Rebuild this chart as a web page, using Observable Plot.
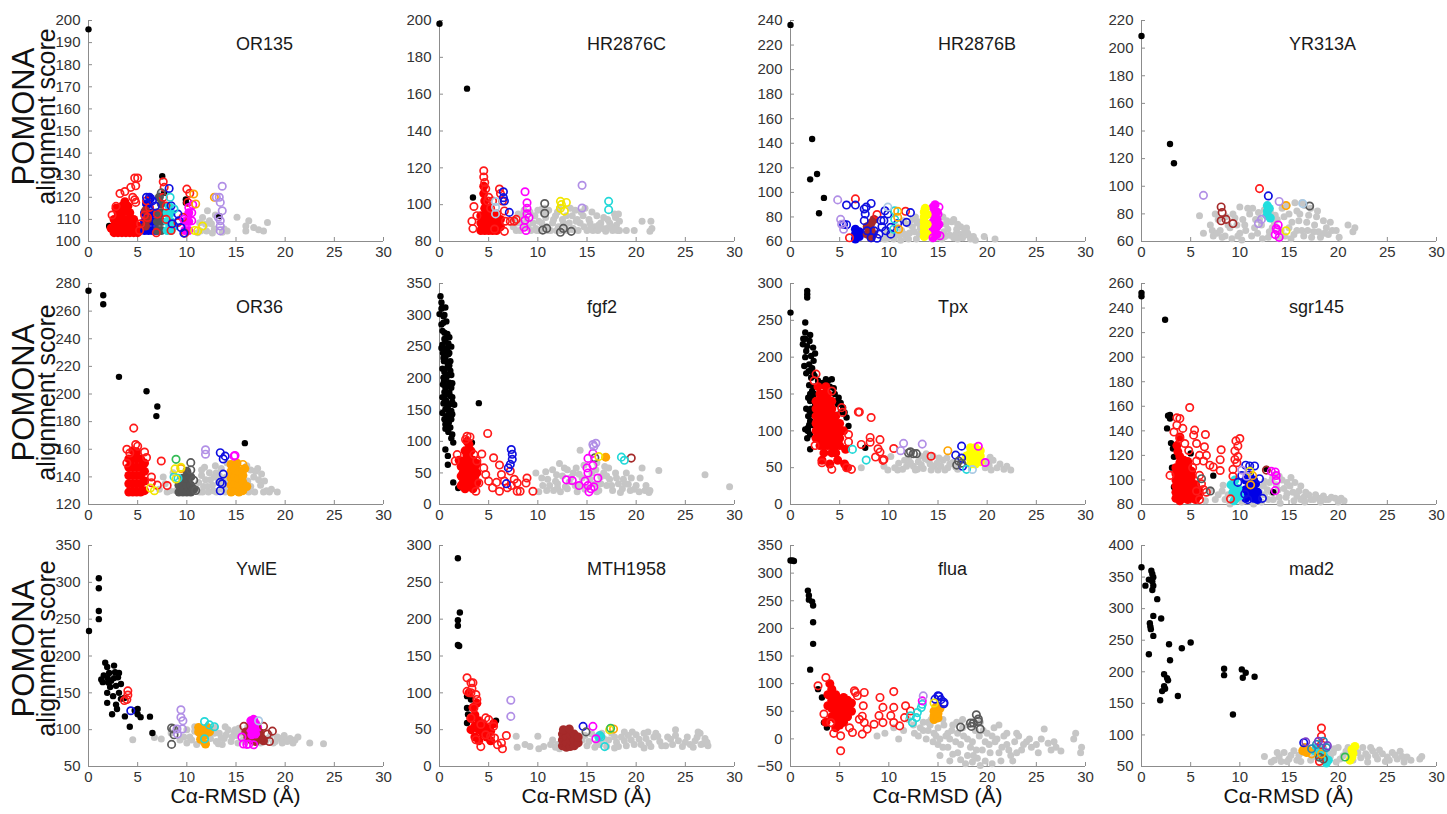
<!DOCTYPE html>
<html><head><meta charset="utf-8">
<script src="https://cdn.jsdelivr.net/npm/d3@7"></script>
<script src="https://cdn.jsdelivr.net/npm/@observablehq/plot@0.6"></script>
<style>
body{margin:0;background:#fff;font-family:"Liberation Sans",Arial,sans-serif;}
#wrap{position:relative;width:1447px;height:814px;overflow:hidden;background:#fff;}
.panel{position:absolute;}
.ylab{position:absolute;width:260px;text-align:center;color:#111;transform:rotate(-90deg);transform-origin:50% 50%;white-space:nowrap;}
.xlab{position:absolute;width:300px;text-align:center;font-size:21px;line-height:22px;color:#111;white-space:nowrap;}
</style></head><body><div id="wrap"></div>
<script>
// ---------- panel metadata ----------
const panelNames = ["OR135","HR2876C","HR2876B","YR313A","OR36","fgf2","Tpx","sgr145","YwlE","MTH1958","flua","mad2"];
const yDomains = [[100,200],[80,200],[60,240],[60,220],[120,280],[0,350],[0,300],[80,260],[50,350],[0,300],[-50,350],[50,400]];
const yTickValues = [
  [100,110,120,130,140,150,160,170,180,190,200],
  [80,100,120,140,160,180,200],
  [60,80,100,120,140,160,180,200,220,240],
  [60,80,100,120,140,160,180,200,220],
  [120,140,160,180,200,220,240,260,280],
  [0,50,100,150,200,250,300,350],
  [0,50,100,150,200,250,300],
  [80,100,120,140,160,180,200,220,240,260],
  [50,100,150,200,250,300,350],
  [0,50,100,150,200,250,300],
  [-50,0,50,100,150,200,250,300,350],
  [50,100,150,200,250,300,350,400]
];
const xTickValues = [0,5,10,15,20,25,30];
const yLabelTop = "POMONA";
const yLabelBottom = "alignment score";
const xLabelText = "C\u03b1-RMSD (\u00c5)";

// ---------- data: flat [x,y, x,y, ...] ----------
// OR135
const or135Black = [0,196, 2.1,107, 7.5,129.5, 7.7,122, 9.9,119, 9.9,117.5, 13.3,111.5];
const or135Gray = [12.1,113.9, 11.6,110.9, 12.3,109.4, 12,104.8, 11.4,104.8, 12.8,105.6, 12.5,108, 14.1,104.8, 13.8,105.6, 15.1,111, 16,107, 16.3,109.4, 16,104.8, 16.8,106.3, 17.3,105.3, 17.8,104.8, 18.2,108.6, 11.9,107.8, 11.1,104, 12.9,112, 7.3,121.5, 11.3,108.5, 12.6,103.8, 13.6,104.2];
const or135RedFill = [2.6,104, 2.6,107, 2.6,110, 3.0,104, 3.0,107, 3.0,110, 3.0,113, 3.4,104, 3.4,107, 3.4,110, 3.4,113, 3.4,116, 3.7,118, 3.8,104, 3.8,107, 3.8,110, 3.8,114, 4.2,104, 4.2,107, 4.2,110, 4.2,113, 4.6,104, 4.6,107, 4.6,110, 5.0,104, 5.0,107, 2.3,106, 2.8,115, 4.0,116];
const or135Red = [2.8,115.9, 3.2,121.7, 3.7,122.6, 4.3,124.5, 4.7,128.7, 5.0,128.7, 4.8,125.2, 4.7,118.9, 4.8,117.7, 5.9,118.4, 6.2,115.4, 6.0,110.9, 7.0,112.4, 7.6,127, 7.7,124.5, 7.6,120, 7.9,116, 8.4,105, 9.1,108.6, 9.8,103.8, 10.0,123.7, 10.3,121.8, 10.1,117.7, 9.6,110.9, 7.9,110, 5.3,108, 6.9,104, 5.7,112, 5.2,105, 2.4,112, 4.5,120];
const or135BlueFill = [5.7,105, 5.7,109, 5.7,113, 6.1,105, 6.1,109, 6.1,113, 6.1,117, 6.5,105, 6.5,109, 6.5,113, 6.9,105, 6.9,109, 6.3,119.5, 5.9,117];
const or135Blue = [5.9,120, 6.2,120, 6.5,118.4, 8.2,124, 8.4,116.2, 8.5,108, 9.4,106.3, 9.7,103.8, 9.2,109.4, 9.1,112.4, 6.8,116];
const or135MaroonFill = [5.8,114, 6.0,110, 5.8,107];
const or135DgrayFill = [7.0,105, 7.0,109, 7.0,113, 7.4,105, 7.4,109, 7.4,113, 7.4,117, 7.2,120];
const or135Dgray = [7.4,122];
const or135CyanFill = [8.0,105, 8.0,109, 8.0,113, 8.4,105, 8.4,109, 8.4,113, 8.7,107, 8.2,116];
const or135Cyan = [8.3,120, 8.7,114.7];
const or135MagentaFill = [9.8,105, 9.8,109, 10.2,105, 10.2,109, 10.2,113];
const or135Magenta = [10.6,116.6, 10.5,113, 10.5,109.4, 9.7,110, 10.2,115.4];
const or135Yellow = [11.1,104.8, 11.6,107, 10.8,105];
const or135Orange = [10.7,121.5, 12.8,120, 10.9,117];
const or135Lavender = [13.6,125, 13.3,120, 13.0,120, 13.4,117.7, 13.6,113.9, 13.4,109.4, 13.4,104.8, 13.4,107, 13.2,111];

// HR2876C
const hr2876cBlack = [0,198.2, 2.8,163, 3.4,103.9];
const hr2876cGray = [7.5,88, 7.6,92, 8.2,86, 8.3,90, 8.5,94, 9.3,86, 9.5,90, 9.7,94, 10.0,97, 10.2,86, 10.4,90, 10.8,93, 11.1,97, 11.3,86, 11.5,90, 11.8,94, 12.1,88, 12.5,92, 13.0,86, 13.2,90, 13.5,94, 13.8,97, 14.1,86, 14.3,90, 14.6,94, 15.0,86, 15.3,90, 15.5,96, 15.8,88, 16.1,86, 16.4,90, 16.7,93, 17.0,87, 17.3,90, 17.6,86, 17.9,93, 18.0,89, 18.2,95, 18.3,86, 19.0,86, 19.8,86, 20.6,91, 21.5,91, 21.6,87, 21.4,85.5, 16.9,85.5, 14.8,98, 9.0,88, 12.8,89, 14.0,92, 10.9,88,
  7.8,86, 8.0,95, 8.7,88, 8.9,92, 9.2,96, 9.8,87, 10.1,91, 10.6,95, 10.7,98, 11.0,86, 11.6,92, 12.0,96, 12.3,86, 12.6,90, 12.9,94, 13.3,98, 13.6,87, 13.9,91, 14.4,96, 14.7,88, 15.2,92, 15.6,86, 16.0,94, 16.2,89, 16.6,87, 17.1,92, 17.5,88, 17.8,95, 18.3,91, 18.1,86, 9.9,86, 11.9,86, 13.5,86.5, 15.4,88, 8.6,97, 10.4,97.5, 12.2,98, 7.9,90];
const hr2876cRedFill = [4.2,86, 4.2,90, 4.2,94, 4.6,86, 4.6,90, 4.6,94, 4.6,98, 4.6,102, 5.0,86, 5.0,90, 5.0,94, 5.0,98, 5.4,86, 5.4,90, 5.4,94, 5.8,86, 5.8,90, 5.8,95, 6.2,88, 6.2,92, 4.5,106, 4.5,110];
const hr2876cRed = [4.5,118.4, 4.5,115, 4.6,112, 4.7,108.6, 4.9,102, 3.5,99, 3.3,91, 3.4,87, 3.8,94, 6.1,108.5, 6.2,106, 6.4,102, 6.6,96.6, 6.7,91, 7.2,91, 7.6,91, 7.8,92, 6.6,85.5, 5.6,86.8, 5.4,102, 5.2,98, 5.0,104];
const hr2876cBlue = [6.5,107, 6.6,102, 7.1,95.8, 6.5,103.8];
const hr2876cLightblue = [5.7,101.7, 5.7,98.6, 5.7,95];
const hr2876cMagenta = [8.7,107, 8.9,101, 8.9,98, 8.9,95, 8.7,91.5, 8.6,87.7, 8.8,86, 9.1,93];
const hr2876cDgray = [10.7,100.6, 10.7,95.3, 10.5,86.2, 10.9,87.1, 12.6,87.1, 12.3,85, 13.4,85.5];
const hr2876cYellow = [12.3,101.8, 12.9,101.2, 12.3,98, 12.7,96.5, 12.4,100];
const hr2876cLavender = [14.5,110.5, 14.5,98.2];
const hr2876cCyan = [17.2,101.8, 17.2,97.3];

// HR2876B
const hr2876bBlack = [0,236.4, 2.2,143.5, 2.0,110.6, 2.7,115, 3.4,95.5, 2.9,83];
const hr2876bGray = [9.5,62, 10,64, 10.5,62, 11,65, 11.3,69, 11.8,63, 12.1,67, 12.4,72, 12.4,78, 12.8,62, 13.1,66, 13.2,71, 15.4,62, 15.6,68, 15.8,74, 15.9,77, 16.2,65, 16.6,63, 16.9,70, 17.2,66, 17.5,63, 17.9,71, 18.0,67, 18.3,62, 19.7,64, 20.8,62, 12.0,74, 11.2,61, 9.8,67, 12.9,75, 17.0,62,
  10.3,67, 10.8,72, 11.6,66, 12.0,62, 12.6,68, 13.0,76, 15.5,80, 16.0,70, 16.4,76, 16.8,66, 17.3,72, 17.7,68, 18.1,65, 18.6,64, 14.4,62, 11.5,77, 12.7,80, 15.7,64, 16.6,78, 17.0,74, 9.7,62, 18.8,61];
const hr2876bLavender = [4.8,93.9, 5.1,78, 5.2,74, 5.4,70];
const hr2876bBlue = [5.7,89.7, 6.6,89.7, 5.4,74, 5.7,73.7, 7.5,86.5, 7.6,82.4, 8.2,91, 7.7,88, 7.5,77, 7.8,68.7, 8.2,63, 8.8,62.7, 8.5,68.7, 9.2,77, 9.6,85, 9.5,77, 9.7,68.7, 10.2,71.5, 10.2,66, 10.9,74.6, 11.8,75.6, 12.2,83.5, 9.9,82.4, 9.0,66, 9.3,72];
const hr2876bBlueFill = [6.6,62, 6.6,66, 6.6,70, 7.0,64, 7.0,68];
const hr2876bRed = [6.6,94.7, 6.0,63, 8.8,82, 11.7,84.6];
const hr2876bMaroonFill = [7.8,66, 7.8,72, 8.2,63, 8.2,69, 8.2,75, 8.5,78, 8.4,66];
const hr2876bCyan = [10.6,85, 10.6,78, 10.5,70];
const hr2876bOrange = [11.0,70, 10.9,79.8, 10.9,84.6];
const hr2876bLightblue = [9.9,88];
const hr2876bYellowFill = [13.6,64, 13.6,68, 13.6,72, 13.6,76, 13.6,80, 13.6,84, 13.9,66, 13.9,74, 13.9,82, 13.7,87];
const hr2876bMagentaFill = [14.5,64, 14.5,70, 14.5,76, 14.5,82, 14.5,88, 14.9,66, 14.9,72, 14.9,78, 14.9,84, 15.1,74, 14.7,90];
const hr2876bMagenta = [14.5,63, 15.2,64.7, 15.0,82.4, 15.1,88];

// YR313A
const yr313aBlack = [0,208.8, 2.9,130.6, 3.3,116.6];
const yr313aGray = [5.9,78.6, 7,72, 7.5,80, 8,68, 8.5,64, 9,70, 9.5,77, 10,66, 10.5,72, 11,80, 11.2,64, 11.5,70, 12,76, 12.5,83, 13,67, 13.5,74, 14,62, 14.5,78, 15,70, 15.5,65, 15.8,82, 16,75, 16.3,68, 16.6,86, 17,79, 17.3,63, 17.6,72, 18,67, 18.5,75, 19,65, 19.2,74, 19.8,68, 20.1,63, 21.0,72, 21.5,67, 21.7,70, 9.2,62, 12.3,62, 6.3,66, 10.8,84, 14.8,86, 16.3,88, 7.3,64, 10.2,61, 13.6,79,
  7.2,68, 7.8,76, 8.2,63, 8.8,72, 9.3,80, 9.8,64, 10.3,76, 10.6,68, 11.3,84, 11.8,66, 12.2,72, 12.6,79, 12.9,63, 13.3,70, 13.8,76, 14.2,68, 14.6,64, 15.0,80, 15.3,74, 15.8,68, 16.1,80, 16.5,64, 16.8,74, 17.2,84, 17.5,67, 17.8,78, 18.2,63, 18.8,70, 19.4,68, 10.0,85, 11.6,76, 12.8,86, 14.3,84, 15.6,88, 17.9,82, 9.7,72, 8.6,78, 7.7,66, 13.1,82, 15.2,62, 16.9,68, 18.6,66, 11.9,81];
const yr313aLavender = [6.3,93.4, 11.9,73, 12.2,76, 14.0,89];
const yr313aMaroon = [8.1,85, 8.2,81, 8.1,75, 8.6,76, 9.3,73];
const yr313aRed = [12.0,98.3];
const yr313aBlue = [12.9,93];
const yr313aCyanFill = [12.8,86, 12.8,82, 12.8,79, 13.0,84, 13.1,77];
const yr313aOrange = [14.7,86];
const yr313aYellow = [14.7,67.7];
const yr313aMagenta = [13.9,72, 13.8,68, 13.6,65, 14.0,63, 13.7,69.4];
const yr313aDgray = [17.1,85.7];
const yr313aLightblue = [16.4,87.4];

// OR36
const or36Black = [0,274.7, 1.5,271.5, 1.5,265, 3.1,212.4, 5.9,202, 7.0,191, 6.9,184, 15.9,164.4];
const or36Gray = [7.2,131, 7.8,135, 8.3,130, 11.0,131, 11.2,136, 11.5,141, 11.8,147, 12.1,133, 12.4,138, 12.7,130, 13.0,143, 13.2,136, 13.6,131, 14.0,140, 14.1,150, 16.0,131, 16.2,137, 16.5,145, 16.9,129, 17.3,138, 17.2,146, 17.6,142, 18.1,130, 18.6,131, 19.2,129, 8.6,143, 12.9,148, 11.6,129, 13.9,129,
  11.3,129, 11.7,133, 11.9,138, 12.3,143, 12.6,134, 13.0,129, 13.3,141, 13.5,146, 13.8,134, 14.2,131, 14.3,137, 16.3,129, 16.5,133, 16.8,140, 17.0,144, 17.5,134, 17.8,129, 16.1,148, 12.2,129, 11.5,145, 12.8,140, 13.7,138, 17.9,137, 18.4,129, 8.0,129, 8.9,130, 7.6,140];
const or36RedFill = [4.1,129, 4.1,135, 4.1,141, 4.1,147, 4.1,153, 4.5,129, 4.5,135, 4.5,141, 4.5,147, 4.5,153, 4.5,159, 4.9,129, 4.9,135, 4.9,141, 4.9,147, 4.9,153, 4.9,158, 5.3,129, 5.3,135, 5.3,141, 5.3,147, 5.3,153, 5.7,130, 5.7,137, 5.7,144, 5.7,150];
const or36Red = [4.6,175.3, 4.8,163.4, 5.0,162.2, 4.2,157.3, 5.7,158, 5.9,154, 7.4,151.5, 6.4,139.9, 6.4,135.8, 7.0,134, 8.0,133.7, 3.9,160, 3.9,150];
const or36Yellow = [8.8,145.8, 9.4,147, 6.7,130, 8.9,138.5, 6.3,132];
const or36Green = [8.9,152.7];
const or36Cyan = [8.7,140, 9.1,139];
const or36DgrayFill = [9.2,129, 9.2,134, 9.6,129, 9.6,134, 9.6,139, 10.0,129, 10.0,134, 10.0,139, 10.0,144, 10.4,129, 10.4,134, 10.4,140, 10.7,131];
const or36Dgray = [10.4,150.3, 10.4,145, 10.7,137.5, 10.9,130.2];
const or36Lavender = [11.9,159.6, 11.9,156.4];
const or36Blue = [13.4,157.5, 13.7,153, 13.7,142, 13.4,136, 13.4,130, 13.6,135, 13.9,155];
const or36Magenta = [14.8,155, 14.9,155.5];
const or36OrangeFill = [14.5,129, 14.5,134, 14.5,139, 14.5,144, 14.5,149, 14.9,130, 14.9,135, 14.9,140, 14.9,145, 15.3,129, 15.3,134, 15.3,139, 15.3,144, 15.7,130, 15.7,136, 15.7,141, 15.9,146, 15.1,150, 16.1,133];
const or36Orange = [9.4,146, 15.5,145.5, 15.7,149];

// fgf2
const fgf2Black = [0.1,330, 0,301.5, 0.3,312, 0.6,312, 0.4,288, 0.2,285, 0.5,272, 0.6,258, 0.8,248, 0.9,238, 0.6,233, 1.1,227, 0.8,217, 1.1,212, 0.7,201, 1.0,193, 1.2,185, 0.6,185, 0.8,175, 1.3,170, 0.7,164, 1.1,159, 1.5,158, 0.6,151, 0.95,143, 1.3,143, 0.5,135, 0.95,130, 0.6,127, 1.1,122, 1.3,111, 1.4,98, 0.6,87, 0.85,77, 0.85,63, 1.4,35, 1.9,26, 3.3,98, 4.0,160.5, 0.3,253, 0.45,227, 0.4,201, 0.3,170, 0.4,298, 0.2,310, 1.0,265, 0.35,240, 1.2,250, 0.3,215, 1.2,205, 0.35,190, 0.4,160, 1.0,178, 0.8,155, 0.3,145, 1.2,135,
  0.2,320, 0.5,300, 0.7,290, 0.3,275, 0.8,270, 0.5,262, 0.9,255, 0.2,248, 0.6,245, 1.0,240, 0.4,232, 0.8,225, 1.0,220, 0.5,210, 0.9,205, 0.45,195, 0.9,188, 1.3,192, 0.5,178, 1.1,172, 0.5,168, 1.3,162, 0.9,150, 1.2,148, 0.7,140, 1.1,138, 0.8,132, 0.6,120, 0.9,115, 1.2,105];
const fgf2RedFill = [2.2,30, 2.2,45, 2.2,60, 2.6,25, 2.6,40, 2.6,55, 2.6,70, 2.6,85, 3.0,30, 3.0,45, 3.0,60, 3.0,75, 3.0,95, 3.4,25, 3.4,40, 3.4,55, 3.4,70, 3.8,35, 3.8,50, 3.8,65, 2.8,100, 2.0,70,
  2.4,35, 2.4,50, 2.4,65, 2.8,33, 2.8,48, 2.8,62, 2.8,78, 3.2,35, 3.2,50, 3.2,65, 3.2,85, 3.6,30, 3.6,45, 3.6,60];
const fgf2Red = [2.8,108, 2.65,103, 3.1,107, 4.9,112.5, 5.5,74, 6.1,62.5, 4.5,58, 4.7,47.5, 5.0,37, 5.4,26.5, 6.1,21, 6.9,26.5, 6.6,37, 6.3,47.5, 7.2,53, 7.6,40, 7.9,34, 8.2,21, 7.9,21, 8.8,34, 8.9,42, 9.5,21, 3.8,69, 3.5,79, 4.0,34, 3.7,21, 1.6,69, 1.8,79, 5.8,35, 7.3,30, 4.3,80];
const fgf2Blue = [7.3,87, 7.4,79.5, 7.4,71.5, 7.2,63.5, 7.0,58, 6.8,33];
const fgf2Gray = [9.8,50, 10.1,20, 10.5,30, 11,40, 11.5,55, 11.6,22, 12,33, 12.5,45, 12.7,58, 13,25, 13.2,36, 13.6,50, 14,20, 14.3,30, 14.5,42, 14.7,62, 15.5,50, 15.8,32, 16.2,22, 16.4,44, 16.8,60, 17,30, 17.3,40, 17.6,22, 17.9,50, 18.2,33, 18.6,25, 19.2,32, 19.8,24, 20.3,20, 20.9,22, 21.3,19, 20.6,58, 22.3,54, 27,47, 29.5,28, 18.7,40, 12.2,65, 14.3,86, 10.8,52, 15,27, 16,66, 19.5,42, 12,26,
  10.4,42, 10.9,22, 11.2,30, 11.9,47, 12.3,20, 12.8,28, 13.4,43, 13.8,30, 13.9,58, 14.2,48, 14.8,24, 15.3,40, 15.9,55, 16.4,33, 16.7,50, 17.2,58, 17.5,30, 18.0,42, 18.4,19, 18.9,33, 19.4,22, 20.0,30, 20.4,42, 21.0,30, 21.4,22, 16.0,20, 17.0,45, 13.0,55, 11.8,37, 19.0,50];
const fgf2Magenta = [12.9,39, 13.5,38, 14.2,30, 14.8,37, 15.0,58, 15.1,50, 15.1,30, 15.4,25, 15.2,20, 15.7,28, 15.6,62, 15.1,73, 15.6,81, 16.1,42];
const fgf2Lavender = [15.6,95, 15.9,97, 15.7,92];
const fgf2Dgray = [15.8,74];
const fgf2Yellow = [16.2,76];
const fgf2OrangeFill = [16.9,75];
const fgf2Cyan = [18.5,75, 18.8,70];
const fgf2Maroon = [19.5,73.5];

// Tpx
const tpxBlack = [0,260.5, 1.7,290, 1.7,285.5, 1.7,281, 1.5,247, 1.5,233.6, 1.26,217.5, 1.94,222, 2.3,213, 1.6,208.5, 2.1,201.7, 1.4,188, 1.84,181, 2.1,172, 2.45,174.5, 2.2,154.1, 2.0,140.5, 1.94,127, 2.0,113.3, 1.77,99.7, 2.0,95, 2.0,75, 1.77,104, 3.8,167.7, 4.2,170, 4.8,136, 5.35,131.5, 5.7,118, 5.9,106.5, 7.6,77, 2.35,195, 1.5,225, 2.0,230, 2.5,205, 2.2,185, 2.4,160, 2.3,145, 2.1,130, 1.8,120, 2.2,108, 3.3,165, 4.5,150, 4.6,140, 5.1,125, 2.5,135,
  1.3,225, 1.7,215, 1.5,200, 1.9,190, 1.6,178, 2.3,178, 1.9,162, 2.0,150, 1.8,145, 2.4,150, 1.6,130, 2.3,122, 1.9,108, 1.5,102, 1.7,90, 2.6,160, 2.8,168, 3.0,165, 3.6,170, 4.0,160, 4.4,158, 4.9,145, 5.1,138, 5.5,125];
const tpxRedFill = [2.6,90, 2.6,110, 2.6,130, 3.0,80, 3.0,100, 3.0,120, 3.0,140, 3.4,70, 3.4,90, 3.4,110, 3.4,130, 3.4,150, 3.8,80, 3.8,100, 3.8,120, 3.8,140, 4.2,70, 4.2,90, 4.2,110, 4.2,130, 4.6,80, 4.6,100, 4.6,120, 5.0,90, 5.0,110, 3.2,60, 4.0,55, 4.8,60, 5.4,100, 5.6,75, 5.5,55, 5.8,50,
  2.6,100, 2.6,120, 2.6,140, 3.0,90, 3.0,110, 3.0,130, 3.0,150, 3.4,80, 3.4,100, 3.4,120, 3.4,140, 3.8,90, 3.8,110, 3.8,130, 3.8,150, 4.2,80, 4.2,100, 4.2,120, 4.2,140, 4.6,90, 4.6,110, 4.6,70, 5.0,100, 5.0,80, 3.6,160, 2.8,160];
const tpxRed = [2.6,177, 2.4,168, 4.2,154, 5.2,131.5, 5.3,125, 6.9,125.5, 7.0,125.5, 8.2,118, 8.1,91, 9.1,88, 8.1,84.6, 8.9,75.6, 9.1,71.1, 8.65,64.4, 9.4,59.9, 9.5,61, 7.2,81.5, 10.5,76, 14.3,65.5, 3.2,56.7, 4.2,47.7, 5.7,50, 6.2,47.7, 5.9,95, 2.5,80, 5.9,85];
const tpxCyan = [6.3,74.8, 7.7,60.3, 17.9,47.7];
const tpxGray = [7.2,50, 9.5,52, 10.2,65, 11,56, 11.4,48, 12,63, 12.5,52, 13,58, 13.5,49, 14,60, 14.6,52, 15,47, 15.5,60, 16,50, 16.5,57, 17,48, 20.2,53, 20.6,60, 21,50, 21.7,48, 22.4,47, 13.8,69, 10.6,50, 12.9,48, 14.2,55, 15.9,63, 20.3,64,
  11.8,52, 12.2,57, 12.7,47, 13.3,54, 13.7,62, 14.3,47, 14.9,56, 15.3,52, 15.7,47, 16.2,55, 16.8,51, 19.8,50, 20.0,58, 20.4,47, 21.3,55, 22.0,52, 14.5,66, 13.2,66, 12.3,68, 15.1,63, 11.6,60, 10.9,47, 9.9,47];
const tpxLavender = [11.5,83, 11.2,73, 13.4,82];
const tpxDgray = [12.2,71.6, 12.5,69, 12.8,69, 12.0,70, 17.1,59, 16.9,53.5, 17.4,56];
const tpxOrange = [16.0,73];
const tpxBlue = [17.4,79.2, 16.8,67, 17.4,63, 17.5,52];
const tpxYellowFill = [18.3,55, 18.3,62, 18.3,70, 18.3,77, 18.8,55, 18.8,62, 18.8,70, 18.8,77, 19.3,58, 19.3,66, 19.3,73, 17.9,66];
const tpxMagenta = [19.1,79, 19.8,57];
const tpxLightblue = [18.5,47.5];

// sgr145
const sgr145Black = [0,252.4, 0,249.6, 2.4,230.5, 2.7,152.3, 2.9,150, 2.6,142, 3.2,125.6, 3.3,118.8, 3.3,94.3, 5.0,121.6, 2.9,153, 7.3,103.5, 13.4,90, 12.7,109, 3.0,130, 3.1,110];
const sgr145RedFill = [3.5,85, 3.5,95, 3.5,105, 3.9,83, 3.9,92, 3.9,101, 3.9,110, 3.9,119, 4.3,85, 4.3,94, 4.3,103, 4.3,112, 4.7,84, 4.7,93, 4.7,102, 4.7,111, 5.1,85, 5.1,94, 5.1,103, 5.5,84, 5.5,92, 5.8,87, 3.6,128, 3.9,135,
  3.5,90, 3.5,100, 3.5,110, 3.9,88, 3.9,97, 3.9,105, 3.9,114, 4.3,89, 4.3,98, 4.3,107, 4.3,116, 4.7,88, 4.7,97, 4.7,106, 4.7,115, 5.1,89, 5.1,98, 5.1,107, 5.5,88, 5.5,96, 5.8,92, 3.7,123];
const sgr145Red = [4.9,159, 3.6,150.6, 3.9,150, 3.6,144.6, 3.3,139, 4.2,142, 3.9,133.7, 4.4,129.7, 5.4,140.6, 5.3,136.5, 6.5,137, 5.6,129.7, 6.4,127, 6.6,120, 6.3,115.4, 5.6,115.4, 5.9,120, 8.1,124.6, 8.0,116.5, 8.0,107.7, 6.95,112, 7.3,110.6, 5.9,103.7, 6.1,96.8, 6.3,92.2, 6.6,90, 2.9,103.7, 5.6,91, 5.9,84, 9.05,84.6, 9.3,108.6, 9.5,116.7, 9.5,123.6, 9.6,131.8, 10.0,133.7, 9.8,127.7, 9.7,114, 9.8,119, 9.3,103, 4.8,124, 5.2,110];
const sgr145Gray = [8.3,95.6, 7.0,92, 7.8,88, 8.5,84, 9.5,90, 10.5,100, 11,85, 11.8,95, 12.5,88, 13,98, 13.4,84, 13.9,92, 14.3,100, 14.7,86, 15.1,95, 15.5,83, 16,91, 16.5,86, 17,88, 17.5,84, 18,85, 18.5,87, 19,84, 19.7,85, 20.3,85, 20.6,83, 15.2,102, 14.8,98, 6.5,83, 12.2,82, 12.8,92, 14,86, 16.2,84, 13.5,104,
  7.5,84, 8.2,91, 8.8,88, 9.0,80.5, 10.2,82, 11.4,80.5, 12.0,90, 12.4,95, 12.9,84, 13.2,90, 13.7,96, 14.1,81, 14.5,93, 14.8,89, 15.4,90, 15.8,87, 16.2,95, 16.7,90, 17.2,84, 17.7,88, 18.2,82, 18.7,84, 19.3,86, 20.0,82, 13.3,101, 14.0,103, 12.5,99, 15.6,98, 16.6,82];
const sgr145Dgray = [6.1,101, 7.0,91];
const sgr145BlueFill = [10.6,85, 10.6,92, 10.6,100, 11.0,88, 11.0,96, 11.0,104, 11.4,85, 11.4,92, 11.4,100, 11.8,84, 11.8,90, 11.6,97];
const sgr145Blue = [10.2,103.6, 11.0,111.4, 10.6,112, 11.5,111.4, 12.0,101, 12.3,85, 10.8,84, 10.5,88.5, 9.8,98];
const sgr145CyanFill = [9.1,96, 9.3,90, 9.6,85, 9.8,93, 10.0,87, 9.5,100, 9.4,83];
const sgr145Lavender = [10.2,108, 10.7,103];
const sgr145Orange = [11.3,103.5, 11.1,96];
const sgr145Yellow = [11.0,107];
const sgr145Magenta = [13.6,106.5, 13.7,103.6, 13.7,99.5, 13.6,91.3, 13.2,107];
const sgr145Maroon = [12.7,108];

// YwlE
const ywleBlack = [0.05,234, 1.05,305.5, 1.05,292, 1.05,261, 1.05,250, 1.7,191, 1.9,185, 1.55,173.6, 2.1,177, 2.6,187, 2.7,178, 2.3,166.4, 3.0,171, 3.3,162, 2.0,164, 2.8,159.5, 1.9,150, 2.5,145.5, 3.1,150, 3.65,143, 1.9,136.4, 2.8,134, 3.3,141.8, 2.9,128, 2.4,121, 3.7,118, 4.2,104, 4.7,126, 5.0,128, 5.3,117, 5.0,121, 6.25,117.7, 6.5,95.5, 1.3,168, 1.95,170, 1.45,164.5, 3.1,177, 2.2,158, 2.6,170];
const ywleRed = [4.0,152.7, 4.0,147, 3.9,140.9, 3.65,139.5];
const ywleBlue = [4.3,125.7];
const ywleGray = [4.5,86.4, 6.7,89.5, 7.4,87.3, 8.4,95.5, 10,82, 10.3,90, 10.8,98, 11.5,84, 12,92, 12.5,100, 13,84, 13.3,95, 13.8,88, 14.2,100, 14.5,84, 15,92, 15.3,102, 15.7,86, 18,84, 18.5,92, 19,84, 19.5,88, 20,86, 20.5,88, 21,86, 22.5,82, 23.9,81, 10,100, 13.6,80, 11,80, 12.9,103, 14.8,96, 9.3,86, 19.9,92, 21.3,90,
  10.5,86, 11.2,95, 11.8,82, 12.4,88, 12.8,95, 13.2,81, 13.5,89, 14.0,93, 14.6,90, 14.9,100, 15.2,82, 15.5,95, 16.0,84, 17.5,82, 18.2,88, 18.8,82, 19.2,90, 19.7,82, 20.2,84, 20.8,82, 10.8,104, 13.9,104, 11.5,100, 9.7,90, 16.2,104];
const ywleLightblue = [17.3,112];
const ywleDgray = [8.45,102.3, 8.65,101, 8.45,80, 8.7,93];
const ywleLavender = [9.4,127, 9.4,116.8, 9.6,112, 9.0,100.9, 9.05,94, 9.55,101];
const ywleOrangeFill = [11.2,103, 11.2,97, 11.6,100, 11.8,92, 12.1,103, 12.3,97, 11.4,87, 11.9,80.5];
const ywleCyan = [11.8,111, 12.3,106.5, 11.8,87.5, 12.8,104];
const ywleMagentaFill = [16.5,112, 16.8,114, 16.6,106, 17.0,108, 16.5,100, 16.9,100, 17.2,103, 16.6,93, 17.0,94];
const ywleMaroonFill = [16.2,90, 16.6,86, 17.0,84, 17.4,88, 17.4,96, 17.8,85, 16.0,97];
const ywleMaroon = [15.8,104.5, 17.8,104.5, 18.7,98, 18.2,94, 18.4,84, 17.7,87];
const ywleMagenta = [15.75,80.5, 16.3,80.5, 16.8,79.5, 16.1,80, 15.6,90];

// MTH1958
const mth1958Black = [1.87,282.7, 2.07,209, 1.87,198.6, 1.87,191, 1.87,165, 2.0,163.6, 2.8,95.5, 2.8,79.5, 2.9,70.5, 2.8,59, 5.75,62.3, 3.2,91];
const mth1958RedFill = [3.2,50, 3.2,65, 3.6,40, 3.6,55, 3.6,70, 4.0,35, 4.0,50, 4.0,62, 4.4,45, 4.4,58, 4.8,40, 4.8,52, 5.2,35, 5.2,48, 5.5,58, 3.4,80, 3.8,86, 3.0,100];
const mth1958Red = [2.8,120.5, 3.2,113.6, 3.4,113.6, 2.8,102, 3.2,100, 3.7,97.7, 3.8,91, 3.5,79.5, 3.2,66, 4.2,57, 4.7,66, 5.0,63.6, 5.5,54.5, 4.7,43, 5.2,41, 5.6,38.6, 5.9,29.5, 6.3,32, 6.4,24, 6.8,42, 4.2,27, 3.7,36.4, 3.3,106];
const mth1958Lavender = [7.25,90, 7.25,68];
const mth1958MaroonFill = [12.5,28, 12.5,36, 12.5,44, 12.9,26, 12.9,33, 12.9,41, 12.9,49, 13.3,27, 13.3,35, 13.3,43, 13.7,28, 13.7,36, 13.7,44, 14.1,32, 14.1,40, 12.6,50, 13.2,51];
const mth1958Gray = [7.8,41, 7.9,26, 8.7,30, 10,41, 10.1,24, 10.6,27, 11.3,30, 11.8,26, 14.5,36, 15,28, 15.5,44, 16,32, 16.7,38, 17,27, 17.5,45, 18,33, 18.5,40, 19,28, 19.5,36, 20,43, 20.5,30, 21,38, 21.5,27, 22,45, 22.4,34, 23,28, 24,50, 24,42, 25.5,30, 26,35, 26.5,45, 27,38, 27.3,28, 26.3,47, 19.6,47, 22.2,41, 12,30, 17.8,25, 20.8,25, 23.5,37, 25,33, 26.8,31,
  14.8,42, 15.2,34, 15.8,26, 16.3,30, 17.2,36, 17.8,40, 18.2,27, 18.8,35, 19.2,42, 19.8,30, 20.3,37, 20.8,45, 21.3,32, 21.8,40, 22.6,28, 23.2,40, 23.7,30, 24.3,35, 24.7,27, 25.2,40, 25.8,26, 26.2,40, 26.6,30, 27.2,33, 11.5,36, 9.2,27, 12.2,24, 16.5,45, 18.8,47, 21.2,47];
const mth1958Blue = [14.6,54.5];
const mth1958Magenta = [15.6,54.5, 15.9,37.7];
const mth1958Dgray = [14.9,47];
const mth1958Cyan = [16.3,42, 16.4,40, 16.8,27];
const mth1958CyanFill = [16.2,40];
const mth1958Orange = [17.7,51];
const mth1958Green = [17.4,52];
const mth1958Yellow = [17.3,50];

// flua
const fluaBlack = [0,322.8, 0.2,322.8, 0.35,322, 1.77,268.4, 1.87,259.4, 1.87,252, 2.2,248.5, 2.3,241.3, 2.3,211, 2.3,172, 2.0,125.3, 2.8,90, 3.2,75, 3.7,20.5, 5.1,66, 3.4,29.5];
const fluaRedFill = [3.8,60, 3.8,80, 4.2,40, 4.2,55, 4.2,70, 4.2,90, 4.6,20, 4.6,35, 4.6,50, 4.6,65, 4.6,80, 5.0,25, 5.0,40, 5.0,55, 5.0,70, 5.4,30, 5.4,45, 5.4,60, 5.4,75, 5.8,40, 5.8,55, 5.8,70, 6.2,50, 6.2,65, 4.0,100, 3.6,30];
const fluaRed = [3.6,111, 2.8,96, 5.1,-21.6, 5.1,5.5, 4.1,29.5, 6.3,11.6, 7.3,8.6, 6.8,78, 7.5,84, 7.4,60, 7.5,29.5, 7.8,17.7, 7.0,35.5, 8.5,26.5, 9.1,75, 9.4,57, 9.0,42, 9.4,29.5, 10.5,85.6, 10.5,57, 10.2,42, 10.5,29.5, 11.1,23.5, 11.6,38.5, 11.7,60, 12.2,50.5, 6.5,87, 6.6,84, 7.3,41, 4.4,10, 6.0,20, 3.4,45];
const fluaCyan = [12.2,41.6, 12.4,29.5, 12.9,47.6, 13.3,56.6, 13.4,62.6, 12.8,38.5];
const fluaLavender = [13.5,77.8];
const fluaMagenta = [13.4,68.8];
const fluaYellow = [14.6,65];
const fluaOrangeFill = [14.6,35, 14.6,42, 14.6,50, 15.0,38, 15.0,46, 15.2,55, 14.8,58];
const fluaBlue = [15.0,78, 15.3,71, 15.6,63.5, 14.7,72, 15.1,77, 15.6,66];
const fluaDgray = [17.3,21.3, 18.9,43.7, 19.1,31.6, 18.6,28.6, 18.4,22.6, 19.3,17.8, 19.1,36, 18.3,28.6];
const fluaGray = [9.6,10, 10.5,20, 11.5,15, 12.5,25, 13,5, 13.5,30, 14,15, 14.5,-5, 15,20, 15.5,35, 15.8,5, 16,-15, 16.5,25, 17,10, 17,-25, 17.5,35, 18,0, 18.3,-15, 18.8,15, 19,-35, 19.3,30, 19.8,-5, 20,10, 20.3,-25, 20.7,20, 21,0, 21.4,-40, 21.5,-15, 22,10, 22.4,-30, 22.8,-5, 23.2,5, 23.5,-20, 24,-5, 24.5,-15, 25,-10, 25.5,0, 25.8,18, 26.5,-20, 27,-15, 29,10, 29.6,-15, 29.5,-25, 28.8,0, 16.2,-40, 17.8,-45, 18.6,-30, 15.2,-30, 20.5,-45, 12,35, 11,0, 14,30, 16.8,-5, 17.5,20, 19.5,-20, 20.5,5, 22,-10, 14.8,5, 18,-30, 19.8,-40, 21.2,25, 16,10, 15.5,-15, 13.5,15, 23,10, 26.2,-8, 8.8,5,
  13.2,20, 13.8,0, 14.2,25, 14.6,10, 15.2,0, 15.6,25, 16.2,0, 16.4,15, 16.9,30, 17.3,-10, 17.6,5, 18.1,25, 18.5,-5, 18.9,-20, 19.2,5, 19.6,15, 20.2,-10, 20.8,-5, 21.2,-25, 21.7,5, 22.2,-20, 23.0,-25, 23.7,-10, 24.3,0, 25.2,-25, 15.0,-10, 16.5,-28, 17.3,-38, 18.5,-42, 19.3,-48, 22.6,-40, 26.8,-5, 27.5,-22, 12.6,10, 14.3,35];

// mad2
const mad2Black = [0,365.5, 0.4,336.4, 0.75,346, 1.0,360, 1.1,355, 1.2,349.6, 1.1,342.8, 1.2,336.4, 1.1,329.5, 1.6,315, 1.2,288.5, 2.0,284.3, 0.85,277, 0.9,271.7, 0.95,267.5, 1.2,256.8, 0.75,227.7, 2.8,243.6, 4.1,237.3, 5.0,246.3, 2.9,218.2, 2.3,196, 2.7,186.4, 2.4,173.1, 2.1,169.4, 1.9,155, 3.7,161.6, 8.4,204.8, 8.4,194.7, 10.2,203.8, 10.3,190.5, 10.6,198.5, 11.5,192.2, 9.3,132.3, 2.3,177, 2.6,190];
const mad2Gray = [12.5,66, 13.5,60, 14,66, 14.5,72, 15,62, 15.5,75, 16,68, 17,75, 19,62, 19.5,72, 20,80, 20.5,67, 21.5,60, 22,72, 22.5,80, 23,66, 23.5,75, 24,62, 24.5,70, 25,65, 25.5,72, 26,62, 26.7,57, 27,65, 28.3,62, 28.5,66, 18.5,80, 13.2,57, 21,80, 14.8,58, 16.2,58, 19.8,57, 23,57, 17.2,60, 24.8,58,
  13.8,72, 14.2,58, 15.2,68, 15.8,60, 16.4,72, 17.5,66, 19.2,66, 19.6,78, 20.2,62, 20.8,74, 21.2,68, 22.3,64, 22.8,70, 23.3,80, 23.8,68, 24.2,76, 25.2,60, 25.8,68, 26.3,74, 26.5,66, 27.4,60, 18.9,72, 17.8,72];
const mad2Blue = [16.5,87.7];
const mad2Purple = [16.7,89, 18,90, 18.9,83];
const mad2OrangeFill = [16.6,80, 16.8,72, 16.4,75, 16.95,76];
const mad2Orange = [17.3,70, 18.3,70];
const mad2Red = [18.3,111, 18.3,97.8, 18.3,84.6, 18.1,58];
const mad2CyanFill = [17.8,80, 17.6,75, 18.1,67, 18.6,65, 18.8,55.6, 19.0,60, 18.5,75];
const mad2Steel = [17.8,85, 18.8,80, 18.5,90, 17.3,78];
const mad2Dgray = [18.1,64.6, 18.5,62];
const mad2Green = [20.7,65];
const mad2YellowFill = [21.4,76.5, 21.4,65, 21.5,71, 21.7,81.8, 21.2,60];

// ---------- series per panel ----------
const panelSeries = [
  {gray: or135Gray, black: or135Black, redFill: or135RedFill, blueFill: or135BlueFill, maroonFill: or135MaroonFill, dgrayFill: or135DgrayFill, cyanFill: or135CyanFill, magentaFill: or135MagentaFill, red: or135Red, blue: or135Blue, dgray: or135Dgray, cyan: or135Cyan, magenta: or135Magenta, yellow: or135Yellow, orange: or135Orange, lavender: or135Lavender},
  {gray: hr2876cGray, black: hr2876cBlack, redFill: hr2876cRedFill, red: hr2876cRed, blue: hr2876cBlue, lightblue: hr2876cLightblue, magenta: hr2876cMagenta, dgray: hr2876cDgray, yellow: hr2876cYellow, lavender: hr2876cLavender, cyan: hr2876cCyan},
  {gray: hr2876bGray, black: hr2876bBlack, blueFill: hr2876bBlueFill, maroonFill: hr2876bMaroonFill, yellowFill: hr2876bYellowFill, magentaFill: hr2876bMagentaFill, lavender: hr2876bLavender, blue: hr2876bBlue, red: hr2876bRed, cyan: hr2876bCyan, orange: hr2876bOrange, lightblue: hr2876bLightblue, magenta: hr2876bMagenta},
  {gray: yr313aGray, black: yr313aBlack, cyanFill: yr313aCyanFill, lavender: yr313aLavender, maroon: yr313aMaroon, red: yr313aRed, blue: yr313aBlue, orange: yr313aOrange, yellow: yr313aYellow, magenta: yr313aMagenta, dgray: yr313aDgray, lightblue: yr313aLightblue},
  {gray: or36Gray, black: or36Black, redFill: or36RedFill, dgrayFill: or36DgrayFill, orangeFill: or36OrangeFill, red: or36Red, yellow: or36Yellow, green: or36Green, cyan: or36Cyan, dgray: or36Dgray, lavender: or36Lavender, blue: or36Blue, magenta: or36Magenta, orange: or36Orange},
  {gray: fgf2Gray, black: fgf2Black, redFill: fgf2RedFill, orangeFill: fgf2OrangeFill, red: fgf2Red, blue: fgf2Blue, magenta: fgf2Magenta, lavender: fgf2Lavender, dgray: fgf2Dgray, yellow: fgf2Yellow, cyan: fgf2Cyan, maroon: fgf2Maroon},
  {gray: tpxGray, black: tpxBlack, redFill: tpxRedFill, yellowFill: tpxYellowFill, red: tpxRed, cyan: tpxCyan, lavender: tpxLavender, dgray: tpxDgray, orange: tpxOrange, blue: tpxBlue, magenta: tpxMagenta, lightblue: tpxLightblue},
  {gray: sgr145Gray, black: sgr145Black, redFill: sgr145RedFill, blueFill: sgr145BlueFill, cyanFill: sgr145CyanFill, red: sgr145Red, dgray: sgr145Dgray, blue: sgr145Blue, lavender: sgr145Lavender, orange: sgr145Orange, yellow: sgr145Yellow, magenta: sgr145Magenta, maroon: sgr145Maroon},
  {gray: ywleGray, black: ywleBlack, orangeFill: ywleOrangeFill, magentaFill: ywleMagentaFill, maroonFill: ywleMaroonFill, red: ywleRed, blue: ywleBlue, lightblue: ywleLightblue, dgray: ywleDgray, lavender: ywleLavender, cyan: ywleCyan, maroon: ywleMaroon, magenta: ywleMagenta},
  {gray: mth1958Gray, black: mth1958Black, redFill: mth1958RedFill, maroonFill: mth1958MaroonFill, cyanFill: mth1958CyanFill, red: mth1958Red, lavender: mth1958Lavender, blue: mth1958Blue, magenta: mth1958Magenta, dgray: mth1958Dgray, cyan: mth1958Cyan, orange: mth1958Orange, green: mth1958Green, yellow: mth1958Yellow},
  {gray: fluaGray, black: fluaBlack, redFill: fluaRedFill, orangeFill: fluaOrangeFill, red: fluaRed, cyan: fluaCyan, lavender: fluaLavender, magenta: fluaMagenta, yellow: fluaYellow, blue: fluaBlue, dgray: fluaDgray},
  {gray: mad2Gray, black: mad2Black, orangeFill: mad2OrangeFill, cyanFill: mad2CyanFill, yellowFill: mad2YellowFill, blue: mad2Blue, purple: mad2Purple, orange: mad2Orange, red: mad2Red, steel: mad2Steel, dgray: mad2Dgray, green: mad2Green}
];

// ---------- styles ----------
const styles = {
  gray: {color: "#c6c6c6", filled: true, r: 3.5},
  black: {color: "#000000", filled: true, r: 3.2},
  redFill: {color: "#ff0000", filled: true, r: 4.5},
  blueFill: {color: "#0000e6", filled: true, r: 4.5},
  dgrayFill: {color: "#555555", filled: true, r: 4.5},
  maroonFill: {color: "#a52a2a", filled: true, r: 4.5},
  cyanFill: {color: "#22dede", filled: true, r: 4.5},
  magentaFill: {color: "#ff00ff", filled: true, r: 4.5},
  orangeFill: {color: "#ffa500", filled: true, r: 4.5},
  yellowFill: {color: "#ffff00", filled: true, r: 4.5},
  red: {color: "#ff1a1a", filled: false, r: 3.7},
  blue: {color: "#1010e0", filled: false, r: 3.7},
  dgray: {color: "#5a5a5a", filled: false, r: 3.7},
  maroon: {color: "#a52a2a", filled: false, r: 3.7},
  cyan: {color: "#22d8d8", filled: false, r: 3.7},
  magenta: {color: "#ff00ff", filled: false, r: 3.7},
  orange: {color: "#ffa500", filled: false, r: 3.7},
  yellow: {color: "#f2e600", filled: false, r: 3.7},
  lavender: {color: "#b18fe6", filled: false, r: 3.7},
  green: {color: "#33bb55", filled: false, r: 3.7},
  steel: {color: "#2a86b8", filled: false, r: 3.7},
  purple: {color: "#7a3cc8", filled: false, r: 3.7},
  lightblue: {color: "#a9c9e3", filled: false, r: 3.7}
};
const drawOrder = ["gray","black","redFill","blueFill","maroonFill","dgrayFill","cyanFill","magentaFill","orangeFill","yellowFill","red","blue","dgray","maroon","cyan","magenta","orange","yellow","lavender","green","steel","purple","lightblue"];

// ---------- layout ----------
const colLeft = [88, 439, 790, 1141];
const rowTop = [20, 283, 545];
const yLabelCenters = [116, 392, 648];
const innerW = 295, innerH = 221;
const ML = 50, MR = 14, MT = 12, MB = 30;
const axisColor = "#8c8c8c";

function pairs(a){const out=[];for(let i=0;i<a.length;i+=2) out.push({x:a[i],y:a[i+1]});return out;}

const wrap = document.getElementById("wrap");

panelNames.forEach((name, i) => {
  const col = i % 4, row = Math.floor(i / 4);
  const yDom = yDomains[i];
  const yTicks = yTickValues[i];
  const series = panelSeries[i];
  const marks = [
    Plot.ruleX([0], {stroke: axisColor, strokeWidth: 1}),
    Plot.ruleY([yDom[0]], {stroke: axisColor, strokeWidth: 1}),
    Plot.tickX(xTickValues, {x: d => d, insetTop: innerH - 4, stroke: axisColor}),
    Plot.tickY(yTicks, {y: d => d, insetRight: innerW - 4, stroke: axisColor})
  ];
  for (const key of drawOrder) {
    if (!series[key]) continue;
    const s = styles[key];
    marks.push(Plot.dot(pairs(series[key]), {
      x: "x", y: "y", r: s.r,
      fill: s.filled ? s.color : "none",
      stroke: s.filled ? "none" : s.color,
      strokeWidth: s.filled ? 0 : 1.7
    }));
  }
  marks.push(Plot.text([name], {frameAnchor: "top-left", dx: innerW / 2, dy: 24, textAnchor: "start", lineAnchor: "middle", fontSize: 18, fill: "#1a1a1a"}));

  const chart = Plot.plot({
    width: innerW + ML + MR,
    height: innerH + MT + MB,
    marginLeft: ML, marginRight: MR, marginTop: MT, marginBottom: MB,
    x: {domain: [0, 30], ticks: xTickValues, tickSize: 0, tickPadding: 5, label: null},
    y: {domain: yDom, ticks: yTicks, tickSize: 0, tickPadding: 8, label: null},
    style: {background: "transparent", overflow: "visible", fontSize: "15px", fontFamily: "'Liberation Sans', Arial, sans-serif", color: "#333"},
    marks
  });
  const div = document.createElement("div");
  div.className = "panel";
  div.style.left = (colLeft[col] - ML) + "px";
  div.style.top = (rowTop[row] - MT) + "px";
  div.style.width = (innerW + ML + MR) + "px";
  div.appendChild(chart);
  wrap.appendChild(div);
});

// y labels (left column): two rotated lines
function addYLabel(text, cx, cy, size) {
  const d = document.createElement("div");
  d.className = "ylab";
  d.style.fontSize = size + "px";
  d.style.lineHeight = size + "px";
  d.style.height = size + "px";
  d.style.left = (cx - 130) + "px";
  d.style.top = (cy - size / 2) + "px";
  d.textContent = text;
  wrap.appendChild(d);
}
yLabelCenters.forEach(cy => {
  addYLabel(yLabelTop, 23, cy, 31);
  addYLabel(yLabelBottom, 46, cy, 25);
});
// x labels (bottom row)
colLeft.forEach(left => {
  const d = document.createElement("div");
  d.className = "xlab";
  d.style.left = (left + innerW / 2 - 150) + "px";
  d.style.top = (rowTop[2] + innerH + 19) + "px";
  d.textContent = xLabelText;
  wrap.appendChild(d);
});
</script>
</body></html>
